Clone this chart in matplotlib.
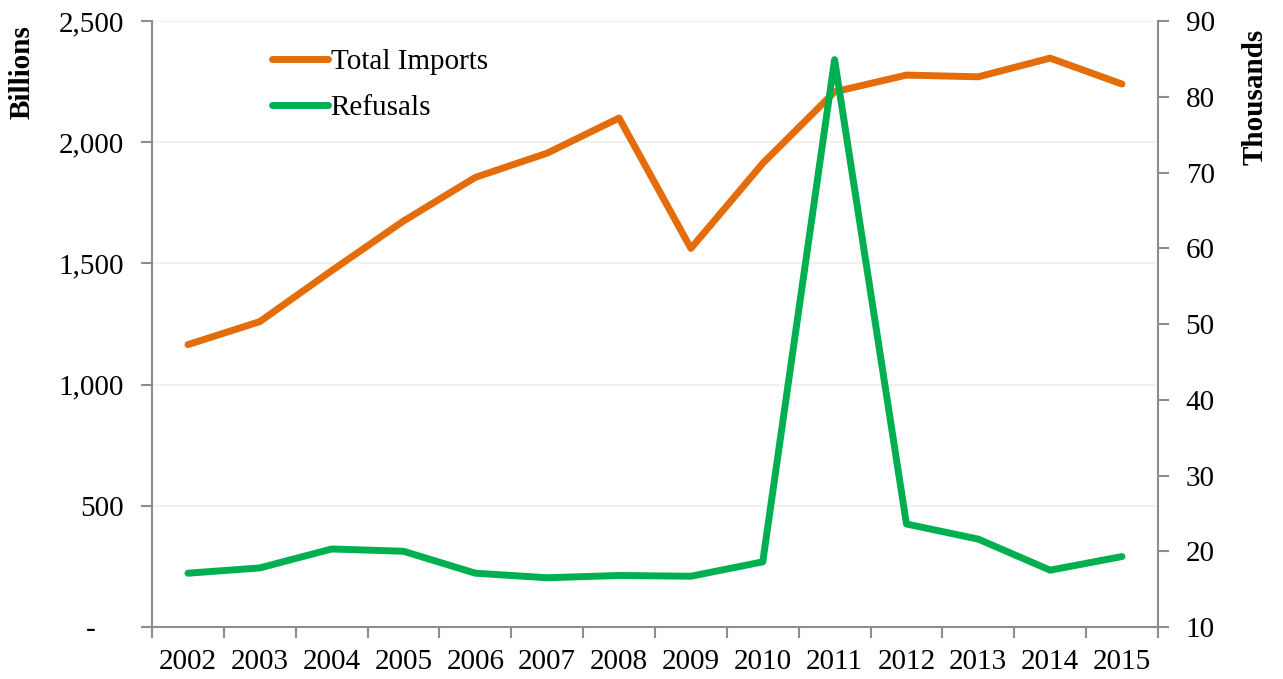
import numpy as np
import matplotlib.pyplot as plt

plt.rcParams['font.family'] = ['Liberation Serif', 'DejaVu Serif']

years = ["2002", "2003", "2004", "2005", "2006", "2007", "2008",
         "2009", "2010", "2011", "2012", "2013", "2014", "2015"]
total_imports = [1165, 1260, 1470, 1675, 1855, 1955, 2100,
                 1562, 1913, 2208, 2277, 2270, 2347, 2240]
refusals = [17.1, 17.8, 20.3, 20.0, 17.1, 16.5, 16.8,
            16.7, 18.6, 84.9, 23.6, 21.6, 17.5, 19.3]

grey = "#8c8c8c"
x = np.arange(len(years))

fig = plt.figure(figsize=(12.83, 6.79), dpi=100)
ax = fig.add_axes([0.1185, 0.0766, 0.784, 0.8924])
ax2 = ax.twinx()

# gridlines
ax.set_axisbelow(True)
ax.yaxis.grid(True, color="#f1f1e9", linewidth=1.3)

l1, = ax.plot(x, total_imports, color="#e46c0a", linewidth=5,
              solid_capstyle="round", solid_joinstyle="round", label="Total Imports")
l2, = ax2.plot(x, refusals, color="#00b050", linewidth=5,
               solid_capstyle="round", solid_joinstyle="round", label="Refusals")

ax.set_xlim(-0.5, len(years) - 0.5)
ax.set_ylim(0, 2500)
ax2.set_ylim(10, 90)

ax.set_yticks([0, 500, 1000, 1500, 2000, 2500])
ax.set_yticklabels(["-    ", "500", "1,000", "1,500", "2,000", "2,500"])
ax2.set_yticks(range(10, 91, 10))

# category ticks between years, labels in the middle
ax.set_xticks(np.arange(-0.5, len(years), 1.0))
ax.set_xticklabels([])
ax.set_xticks(x, minor=True)
ax.set_xticklabels(years, minor=True)
ax.tick_params(axis="x", which="major", length=8, width=1.5, color=grey, direction="out")
ax.tick_params(axis="x", which="minor", length=0, pad=16, labelsize=21)
ax.tick_params(axis="y", length=8, width=1.5, color=grey, labelsize=21, pad=12)
ax2.tick_params(axis="y", length=8, width=1.5, color=grey, labelsize=21, pad=12)

for a in (ax, ax2):
    for s in a.spines.values():
        s.set_visible(False)
ax.spines["left"].set_visible(True)
ax.spines["bottom"].set_visible(True)
ax2.spines["right"].set_visible(True)
for s in (ax.spines["left"], ax.spines["bottom"], ax2.spines["right"]):
    s.set_color(grey)
    s.set_linewidth(1.5)

fig.text(22 / 1283, 1 - 72 / 679, "Billions", rotation=90, fontsize=21,
         fontweight="bold", ha="center", va="center")
fig.text(1255 / 1283, 1 - 97 / 679, "Thousands", rotation=90, fontsize=21,
         fontweight="bold", ha="center", va="center")

ax.legend(handles=[l1, l2], loc="upper left", bbox_to_anchor=(0.108, 0.973),
          frameon=False, fontsize=21, handlelength=1.9, handletextpad=0.1,
          labelspacing=0.66, borderaxespad=0)

fig.savefig("out.png", dpi=100)
